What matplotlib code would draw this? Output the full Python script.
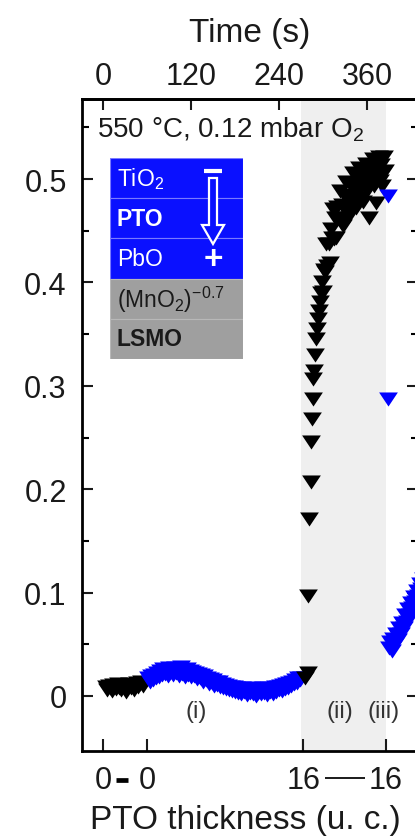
import matplotlib
matplotlib.use('Agg')
import matplotlib.pyplot as plt
import numpy as np
from matplotlib.patches import Rectangle, Polygon
from matplotlib import transforms

plt.rcParams['font.family'] = ['Liberation Sans', 'DejaVu Sans']
plt.rcParams['mathtext.default'] = 'regular'

# %% data (time in s, polarisation signal)
# (i) before growth, black
t_pre = np.arange(4, 58, 2)
v_pre = [0.009, 0.006, 0.010, 0.008, 0.005, 0.011, 0.009, 0.007, 0.012, 0.008,
         0.006, 0.010, 0.011, 0.007, 0.004, 0.009, 0.012, 0.008, 0.010, 0.006,
         0.011, 0.013, 0.009, 0.012, 0.014, 0.010, 0.013]

# (i) during growth 0 -> 16 u.c., blue
t_grow = np.arange(62, 272, 2)
v_grow = [0.017, 0.014, 0.019, 0.015, 0.020, 0.017, 0.022,
          0.018, 0.024, 0.020, 0.026, 0.021, 0.025, 0.019, 0.027, 0.022, 0.024,
          0.020, 0.027, 0.022, 0.026, 0.019, 0.028, 0.021, 0.025, 0.018, 0.026,
          0.020, 0.024, 0.018, 0.023, 0.019, 0.022, 0.016, 0.021, 0.017, 0.020,
          0.014, 0.019, 0.015, 0.017, 0.012, 0.016, 0.013, 0.015, 0.010, 0.014,
          0.011, 0.014, 0.009, 0.012, 0.008, 0.011, 0.007, 0.010, 0.006, 0.009,
          0.005, 0.009, 0.004, 0.008, 0.003, 0.007, 0.002, 0.008, 0.004, 0.006,
          0.001, 0.007, 0.003, 0.008, 0.002, 0.006, 0.000, 0.007, 0.003, 0.005,
          0.002, 0.008, 0.003, 0.007, 0.001, 0.008, 0.004, 0.006, 0.002, 0.009,
          0.004, 0.009, 0.006, 0.010, 0.005, 0.011, 0.007, 0.012, 0.008, 0.013,
          0.010, 0.014, 0.012, 0.015, 0.013, 0.017, 0.015, 0.017]

# (ii) after growth, black: fast rise, then slow saturation
t_rise = [275, 279, 280, 281.5, 283, 284, 285, 286, 287, 288, 289.5, 291, 292,
          293, 294, 295.5, 297, 298]
v_rise = [0.017, 0.022, 0.097, 0.171, 0.207, 0.246, 0.268, 0.287, 0.307, 0.314,
          0.330, 0.345, 0.355, 0.365, 0.372, 0.381, 0.390, 0.400]
t_sat = np.arange(300, 385, 1.5)
v_sat = [0.391, 0.412, 0.410, 0.437, 0.416, 0.437, 0.419, 0.452, 0.443, 0.471,
         0.442, 0.462, 0.443, 0.473, 0.462, 0.488, 0.458, 0.475, 0.455, 0.485,
         0.472, 0.497, 0.467, 0.484, 0.464, 0.493, 0.480, 0.506, 0.475, 0.492,
         0.472, 0.501, 0.488, 0.511, 0.482, 0.499, 0.478, 0.507, 0.494, 0.515,
         0.488, 0.505, 0.462, 0.513, 0.500, 0.519, 0.493, 0.510, 0.477, 0.518,
         0.504, 0.521, 0.498, 0.514, 0.493, 0.521, 0.508]

# (iii) blue
t_sw = [388, 388.5, 390, 392, 394, 396, 398, 400, 402, 404, 406, 408, 410, 412,
        414, 416, 418, 420, 422, 424, 426, 428, 430, 432, 434, 436, 438, 440]
v_sw = [0.484, 0.287, 0.046, 0.052, 0.044, 0.055, 0.050, 0.060, 0.054, 0.066,
        0.060, 0.071, 0.066, 0.078, 0.072, 0.084, 0.078, 0.090, 0.085, 0.096,
        0.091, 0.102, 0.097, 0.108, 0.103, 0.113, 0.109, 0.118]

bottom_ticks = [0, 60, 273, 386]
bottom_labels = ['0', '0', '16', '16']
top_ticks = [0, 120, 240, 360]
y_ticks = [0, 0.1, 0.2, 0.3, 0.4, 0.5]
y_labels = ['0', '0.1', '0.2', '0.3', '0.4', '0.5']
y_minor = [0.05, 0.15, 0.25, 0.35, 0.45, 0.55]

stack_names = ['TiO$_2$', 'PTO', 'PbO', '(MnO$_2$)$^{-0.7}$', 'LSMO']
stack_bold = [False, True, False, False, True]
stack_colors = ['#0a10ff', '#0a10ff', '#0a10ff', '#9f9f9f', '#9f9f9f']
stack_text = ['white', 'white', 'white', '#1a1a1a', '#1a1a1a']

# %% figure
fig = plt.figure(figsize=(4.15, 8.37), dpi=100)
ax = fig.add_axes([82/415, (837-752)/837, 336/415, 652/837])

tri = [(-1, 0.75), (1, 0.75), (0, -0.75)]
ms = 13.5
ax.axvspan(270, 386, color='#efefef', lw=0, zorder=0)
ax.plot(t_pre, v_pre, ls='none', marker=tri, ms=ms, color='black', mew=0)
ax.plot(t_grow, v_grow, ls='none', marker=tri, ms=ms, color='#0000ff', mew=0)
ax.plot(t_rise, v_rise, ls='none', marker=tri, ms=ms, color='black', mew=0)
ax.plot(t_sat, v_sat, ls='none', marker=tri, ms=ms, color='black', mew=0)
ax.plot(t_sw, v_sw, ls='none', marker=tri, ms=ms, color='#0000ff', mew=0)

ax.set_xlim(-28.6, 429.5)
ax.set_ylim(-0.0532, 0.5774)

for s in ax.spines.values():
    s.set_linewidth(2)

ax.set_yticks(y_ticks)
ax.set_yticklabels(y_labels)
ax.set_yticks(y_minor, minor=True)
ax.tick_params(axis='y', which='major', direction='in', length=8, width=1.5,
               labelsize=22, pad=11, right=True, colors='#1a1a1a')
ax.tick_params(axis='y', which='minor', direction='in', length=5, width=1.5, right=True)

ax.set_xticks(bottom_ticks)
ax.set_xticklabels(bottom_labels)
ax.tick_params(axis='x', direction='in', length=9, width=1.5, labelsize=22, pad=10,
               colors='#1a1a1a')
ax.set_xlabel('PTO thickness (u. c.)', fontsize=24, color='#1a1a1a')
ax.xaxis.set_label_coords((245-82)/336, -0.082)

secax = ax.secondary_xaxis('top')
secax.set_xticks(top_ticks)
secax.set_xticklabels([str(t) for t in top_ticks])
secax.tick_params(direction='in', length=8, width=1.5, labelsize=22, pad=6, colors='#1a1a1a')
secax.set_xlabel('Time (s)', fontsize=24, labelpad=14, color='#1a1a1a')
secax.spines['top'].set_linewidth(2)

# dashes between the thickness labels
blend = transforms.blended_transform_factory(ax.transData, ax.transAxes)
ax.plot([17.7, 34.1], [-0.044, -0.044], transform=blend, color='black', lw=3.4,
        clip_on=False, solid_capstyle='butt')
ax.plot([302.7, 357.3], [-0.041, -0.041], transform=blend, color='#1a1a1a', lw=1.4,
        clip_on=False, solid_capstyle='butt')

ax.text(127, -0.0145, '(i)', fontsize=17, color='#333333', ha='center', va='center')
ax.text(323, -0.0145, '(ii)', fontsize=17, color='#333333', ha='center', va='center')
ax.text(383, -0.0145, '(iii)', fontsize=17, color='#333333', ha='center', va='center')

ax.text(0.045, 0.954, '550 °C, 0.12 mbar O$_2$', transform=ax.transAxes,
        fontsize=20, color='#1a1a1a', ha='left', va='center')

# %% layer stack sketch
ins = fig.add_axes([110/415, (837-360)/837, 133/415, 201/837])
ins.set_xlim(0, 1)
ins.set_ylim(0, 5)
ins.axis('off')
for i, (name, bold, fc, tc) in enumerate(zip(stack_names, stack_bold, stack_colors, stack_text)):
    y0 = 4 - i
    ins.add_patch(Rectangle((0, y0), 1, 1, facecolor=fc,
                            edgecolor='#7a7aff' if i < 3 else '#b8b8b8', lw=0.8))
    ins.text(0.05, y0 + 0.5, name, color=tc, fontsize=16.5,
             fontweight='bold' if bold else 'normal', ha='left', va='center')

def px(x, y):
    return ((x - 110) / 133, (360 - y) / 40.2)

arrow = [px(209, 179), px(217, 179), px(217, 226), px(224, 226),
         px(213, 245), px(202, 226), px(209, 226)]
ins.add_patch(Polygon(arrow, closed=True, facecolor='#0a10ff', edgecolor='white', lw=1.6))
ins.plot([px(204, 0)[0], px(222, 0)[0]], [px(0, 172)[1], px(0, 172)[1]],
         color='white', lw=3, solid_capstyle='butt')
ins.text(px(213, 0)[0], px(0, 261)[1], '+', color='white', fontsize=24,
         fontweight='bold', ha='center', va='center')

plt.savefig('out.png', dpi=100)
